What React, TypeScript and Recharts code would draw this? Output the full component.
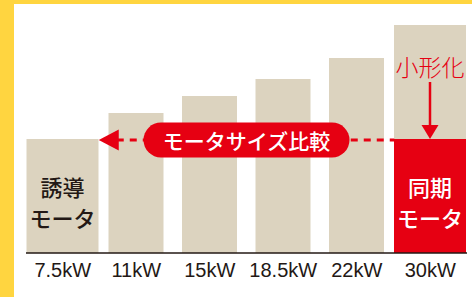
import React from 'react';
import { BarChart, Bar, XAxis, YAxis, Cell, LabelList, ReferenceLine } from 'recharts';

// ---- data ----
const categories = ['7.5kW', '11kW', '15kW', '18.5kW', '22kW', '30kW'];
// overall motor size (bar height, relative units)
const motorSize = [114, 140, 157, 174, 195, 228];
// synchronous motor size at the same output (only for 30kW)
const synchronousSize = [null, null, null, null, null, 114];
const barNotes = ['誘導\nモータ', '', '', '', '', '同期\nモータ'];
const callouts = ['', '', '', '', '', '小形化'];
const comparisonLabel = 'モータサイズ比較';

// ---- styles ----
const RED = '#E60012';
const BEIGE = '#DCD3BF';
const YELLOW = '#FFD540';
const INK = '#231815';
const JP = '"Noto Sans CJK JP", "Noto Sans", sans-serif';
const LATIN = '"Liberation Sans", Arial, sans-serif';
const WIDE = 72;
const NARROW = 55;

const data = categories.map((cat, i) => {
  const sync = synchronousSize[i];
  return {
    cat,
    base: sync != null ? sync : motorSize[i],
    top: sync != null ? motorSize[i] - sync : 0,
    isSync: sync != null,
    note: barNotes[i],
    callout: callouts[i],
  };
});

const isWide = (i: number) => i === 0 || i === categories.length - 1;

const BarShape = (props: any) => {
  const { x, y, width, height, fill, index } = props;
  if (!height || height <= 0) return null;
  const w = isWide(index) ? WIDE : width;
  return <rect x={x + width / 2 - w / 2} y={y} width={w} height={height} fill={fill} />;
};

const NoteLabel = (props: any) => {
  const { x, y, width, height, value } = props;
  if (!value) return null;
  const lines = String(value).split('\n');
  const cx = x + width / 2;
  const cy = y + height / 2;
  const white = data.find((d) => d.note === value)?.isSync;
  return (
    <g>
      {lines.map((ln, k) => (
        <text
          key={k}
          x={cx}
          y={cy - 10 + k * 31}
          textAnchor="middle"
          dominantBaseline="central"
          fontFamily={JP}
          fontSize={22}
          fontWeight={500}
          fill={white ? '#ffffff' : INK}
        >
          {ln}
        </text>
      ))}
    </g>
  );
};

const CalloutLabel = (props: any) => {
  const { x, y, width, value } = props;
  if (!value) return null;
  const cx = x + width / 2;
  const tipY = y;
  return (
    <g>
      <text
        x={cx}
        y={tipY - 73}
        textAnchor="middle"
        dominantBaseline="central"
        fontFamily={JP}
        fontSize={23}
        fontWeight={300}
        fill={RED}
      >
        {value}
      </text>
      <line x1={cx} y1={tipY - 57} x2={cx} y2={tipY - 13} stroke={RED} strokeWidth={2.5} />
      <polygon points={`${cx - 8.5},${tipY - 14} ${cx + 8.5},${tipY - 14} ${cx},${tipY}`} fill={RED} />
    </g>
  );
};

const ComparisonArrow = (props: any) => {
  const { x1, y1, x2 } = props;
  if (x1 == null || x2 == null) return null;
  const left = x1 + WIDE / 2;
  const right = x2 - WIDE / 2;
  const cy = y1 + 1;
  const mid = (left + right) / 2;
  const pw = 206;
  const ph = 35;
  return (
    <g>
      <line x1={left + 18} y1={cy} x2={right} y2={cy} stroke={RED} strokeWidth={3} strokeDasharray="7 6" />
      <polygon points={`${left},${cy} ${left + 20},${cy - 10.5} ${left + 20},${cy + 10.5}`} fill={RED} />
      <rect x={mid - pw / 2} y={cy - ph / 2} width={pw} height={ph} rx={ph / 2} ry={ph / 2} fill={RED} />
      <text
        x={mid}
        y={cy}
        textAnchor="middle"
        dominantBaseline="central"
        fontFamily={JP}
        fontSize={21}
        fontWeight={500}
        fill="#ffffff"
      >
        {comparisonLabel}
      </text>
    </g>
  );
};

export default function App() {
  const syncIdx = synchronousSize.findIndex((v) => v != null);
  return (
    <div style={{ position: 'absolute', left: 0, top: 0, width: 472, height: 297, background: '#ffffff', overflow: 'hidden' }}>
      <BarChart
        width={472}
        height={297}
        data={data}
        margin={{ top: 25, right: 5, bottom: 4, left: 26 }}
        barSize={NARROW}
        barCategoryGap={0}
      >
        <YAxis hide domain={[0, Math.max(...motorSize)]} />
        <XAxis
          dataKey="cat"
          height={40}
          interval={0}
          tickLine={false}
          tickMargin={4}
          axisLine={{ stroke: INK, strokeWidth: 1.5 }}
          tick={{ fill: INK, fontSize: 20, fontFamily: LATIN }}
        />
        <Bar dataKey="base" stackId="s" isAnimationActive={false} shape={<BarShape />}>
          {data.map((d, i) => (
            <Cell key={i} fill={d.isSync ? RED : BEIGE} />
          ))}
          <LabelList dataKey="note" content={<NoteLabel />} />
          <LabelList dataKey="callout" content={<CalloutLabel />} />
        </Bar>
        <Bar dataKey="top" stackId="s" isAnimationActive={false} fill={BEIGE} shape={<BarShape />} />
        <ReferenceLine
          segment={[
            { x: categories[0], y: synchronousSize[syncIdx] as number },
            { x: categories[syncIdx], y: synchronousSize[syncIdx] as number },
          ]}
          shape={<ComparisonArrow />}
        />
      </BarChart>
      <div style={{ position: 'absolute', left: 0, top: 0, width: 14, height: 297, background: YELLOW }} />
      <div style={{ position: 'absolute', left: 0, top: 0, width: 472, height: 4, background: YELLOW }} />
    </div>
  );
}
